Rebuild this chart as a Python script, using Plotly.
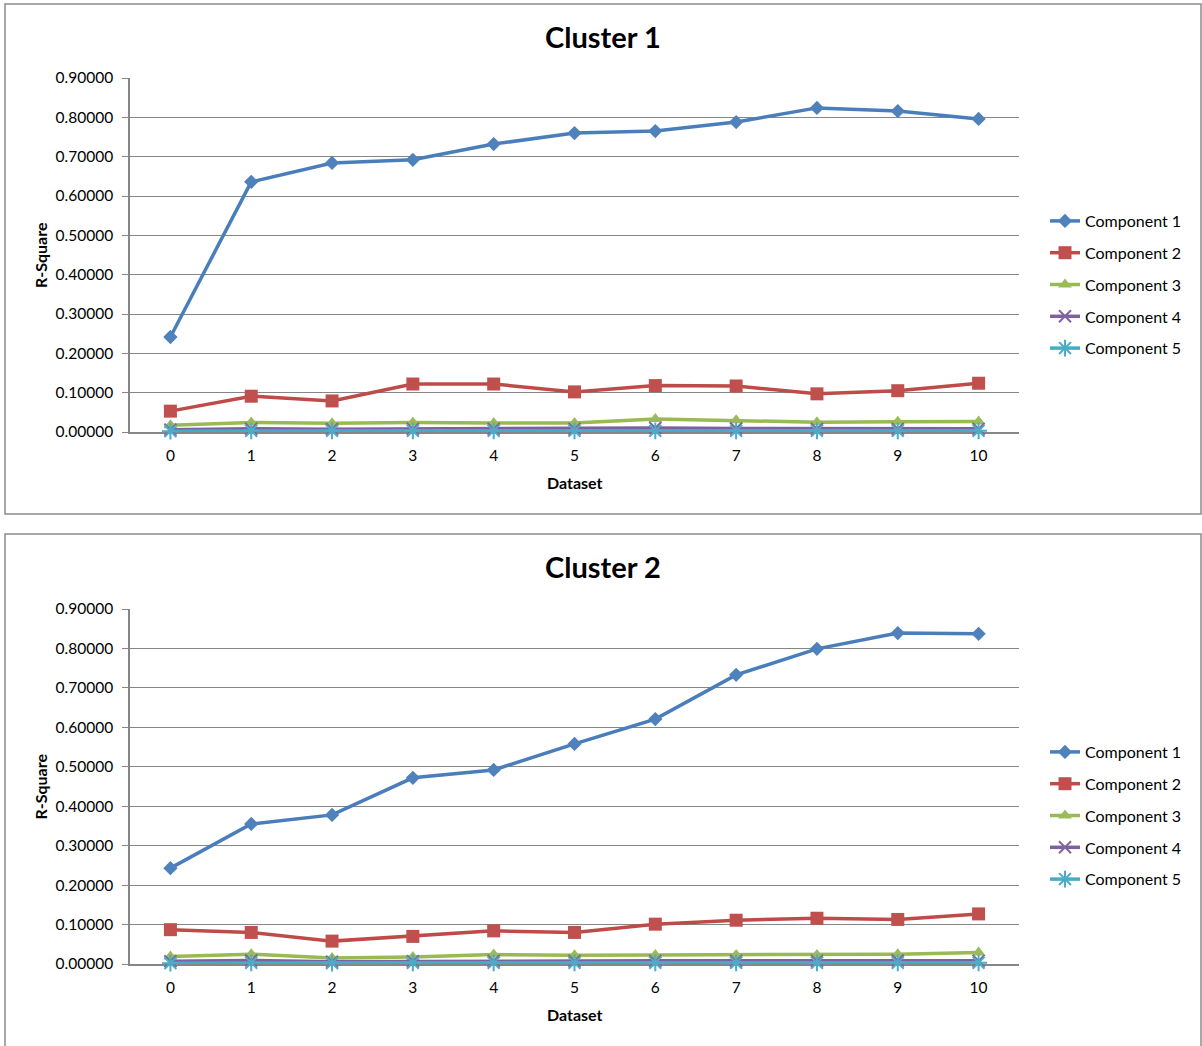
import plotly.graph_objects as go

# Dataset index along the x axis
datasets = [0, 1, 2, 3, 4, 5, 6, 7, 8, 9, 10]
component_names = ["Component 1", "Component 2", "Component 3", "Component 4", "Component 5"]

# R-Square per component, Cluster 1
c1_comp1 = [0.2415, 0.636, 0.684, 0.692, 0.732, 0.760, 0.765, 0.788, 0.824, 0.816, 0.796]
c1_comp2 = [0.053, 0.091, 0.079, 0.122, 0.122, 0.102, 0.118, 0.117, 0.097, 0.105, 0.124]
c1_comp3 = [0.017, 0.024, 0.022, 0.024, 0.023, 0.023, 0.033, 0.030, 0.025, 0.026, 0.027]
c1_comp4 = [0.006, 0.008, 0.007, 0.008, 0.008, 0.008, 0.010, 0.009, 0.008, 0.008, 0.008]
c1_comp5 = [0.002, 0.003, 0.003, 0.003, 0.003, 0.003, 0.003, 0.003, 0.003, 0.003, 0.003]

# R-Square per component, Cluster 2
c2_comp1 = [0.243, 0.355, 0.378, 0.472, 0.492, 0.558, 0.621, 0.733, 0.799, 0.839, 0.837]
c2_comp2 = [0.087, 0.080, 0.058, 0.070, 0.084, 0.080, 0.101, 0.111, 0.116, 0.113, 0.127]
c2_comp3 = [0.019, 0.025, 0.015, 0.018, 0.024, 0.022, 0.023, 0.023, 0.023, 0.025, 0.029]
c2_comp4 = [0.007, 0.009, 0.006, 0.007, 0.008, 0.008, 0.008, 0.008, 0.008, 0.009, 0.008]
c2_comp5 = [0.002, 0.003, 0.002, 0.003, 0.003, 0.003, 0.003, 0.003, 0.003, 0.003, 0.003]

y_ticks = [0.0, 0.1, 0.2, 0.3, 0.4, 0.5, 0.6, 0.7, 0.8, 0.9]
y_ticktext = ["%.5f" % v for v in y_ticks]

W, H = 1202, 1046
FONT = "Lato, 'Open Sans', 'Liberation Sans', sans-serif"

line_colors = ["#4A7EBB", "#BE4B48", "#98B954", "#7D60A0", "#46AAC5"]
fill_colors = ["#4F81BD", "#C0504D", "#9BBB59", "#8064A2", "#4BACC6"]
symbols = ["diamond", "square", "triangle-up", "x-thin-open", "asterisk-open"]
sizes = [11, 13, 12, 12, 14]


def px(x):
    return x / W


def py(y):
    return 1 - y / H


clusters = [
    dict(name="Cluster 1", series=[c1_comp1, c1_comp2, c1_comp3, c1_comp4, c1_comp5],
         box=(5, 4, 1201, 514), plot_top=78, plot_bottom=432, legend="legend", axis="",
         legend_top=204),
    dict(name="Cluster 2", series=[c2_comp1, c2_comp2, c2_comp3, c2_comp4, c2_comp5],
         box=(5, 534, 1201, 1060), plot_top=609, plot_bottom=964, legend="legend2", axis="2",
         legend_top=735),
]

fig = go.Figure()
shapes = []
annotations = []
layout_extra = {}

for cl in clusters:
    xa = "x" + cl["axis"]
    ya = "y" + cl["axis"]
    for k, (name, vals) in enumerate(zip(component_names, cl["series"])):
        open_sym = symbols[k].endswith("open")
        fig.add_trace(go.Scatter(
            x=datasets, y=vals, name=name, mode="lines+markers",
            xaxis=xa, yaxis=ya, legend=cl["legend"], cliponaxis=False,
            legendgroup=f"{cl['legend']}_{k}",
            line=dict(color=line_colors[k], width=3.5),
            marker=dict(symbol=symbols[k], size=sizes[k],
                        color=fill_colors[k],
                        line=dict(color=fill_colors[k] if open_sym else line_colors[k],
                                  width=2 if open_sym else 0)),
        ))

    x0, y0, x1, y1 = cl["box"]
    shapes.append(dict(type="rect", xref="paper", yref="paper",
                       x0=px(x0), x1=px(x1), y0=py(y1), y1=py(y0),
                       line=dict(color="#8C8C8C", width=1.5), fillcolor="rgba(0,0,0,0)",
                       layer="below"))

    xkey = "xaxis" + cl["axis"]
    ykey = "yaxis" + cl["axis"]
    layout_extra[xkey] = dict(
        domain=[px(130), px(1019)], anchor=ya, range=[-0.5, 10.5],
        tickmode="array", tickvals=datasets, ticktext=[str(d) for d in datasets],
        ticks="", showgrid=False, zeroline=False, automargin=False,
        showline=True, linecolor="#868686", linewidth=1.5, layer="below traces",
        ticklabelstandoff=9,
        tickfont=dict(family=FONT, size=15.5, color="#000000"),
    )
    layout_extra[ykey] = dict(
        domain=[py(cl["plot_bottom"]), py(cl["plot_top"])], anchor=xa,
        range=[0, 0.9], tickmode="array", tickvals=y_ticks, ticktext=y_ticktext,
        ticks="outside", ticklen=6, tickcolor="#868686", automargin=False,
        showgrid=True, gridcolor="#868686", gridwidth=1.2, layer="below traces",
        zeroline=False, showline=True, linecolor="#868686", linewidth=1.5,
        ticklabelstandoff=6,
        tickfont=dict(family=FONT, size=15.5, color="#000000"),
    )

    # Title and axis titles
    annotations.append(dict(text=f"<b>{cl['name']}</b>", xref="paper", yref="paper",
                            x=px(603), y=py(y0 + 32), xanchor="center", yanchor="middle",
                            showarrow=False, font=dict(family=FONT, size=29, color="#000000")))
    annotations.append(dict(text="<b>Dataset</b>", xref="paper", yref="paper",
                            x=px(575), y=py(cl["plot_bottom"] + 50), xanchor="center",
                            yanchor="middle", showarrow=False,
                            font=dict(family=FONT, size=16, color="#000000")))
    annotations.append(dict(text="<b>R-Square</b>", xref="paper", yref="paper",
                            x=px(40), y=py((cl["plot_top"] + cl["plot_bottom"]) / 2),
                            xanchor="center", yanchor="middle", textangle=-90,
                            showarrow=False, font=dict(family=FONT, size=16, color="#000000")))

    layout_extra[cl["legend"]] = dict(
        x=px(1045), y=py(cl["legend_top"]), xanchor="left", yanchor="top",
        font=dict(family=FONT, size=16, color="#000000"),
        bgcolor="rgba(0,0,0,0)", tracegroupgap=8, itemwidth=30,
    )

fig.update_layout(
    template="none",
    width=W, height=H, margin=dict(l=0, r=0, t=0, b=0, autoexpand=False),
    paper_bgcolor="white", plot_bgcolor="white",
    shapes=shapes, annotations=annotations, showlegend=True,
    **layout_extra,
)

fig.write_html("out.html")
